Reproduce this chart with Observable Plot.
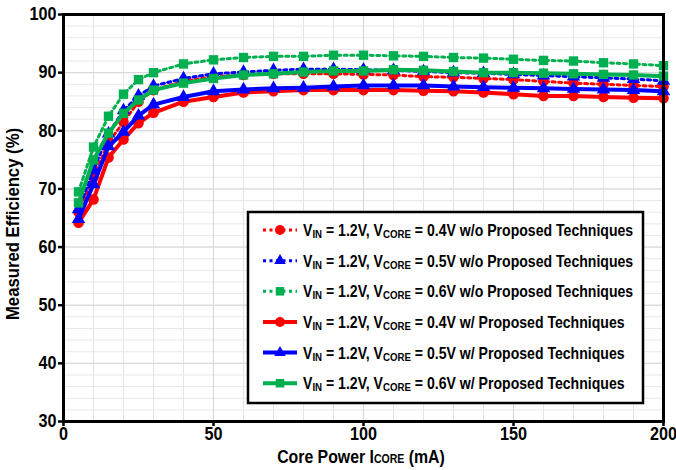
<!DOCTYPE html>
<html><head><meta charset="utf-8">
<script src="https://cdn.jsdelivr.net/npm/d3@7"></script>
<script src="https://cdn.jsdelivr.net/npm/@observablehq/plot@0.6"></script>
<style>
body{margin:0;background:#fff;}
#chart{width:676px;height:470px;}
</style></head><body><div id="chart"></div>
<script>
// ---- data ----
const currents = [5,10,15,20,25,30,40,50,60,70,80,90,100,110,120,130,140,150,160,170,180,190,200];
const eff04_wo = [66.0,72.0,78.0,81.5,85.0,87.0,88.5,89.3,89.6,89.8,89.8,89.8,89.7,89.6,89.3,89.2,89.0,88.8,88.5,88.2,88.0,87.8,87.6];
const eff05_wo = [66.5,73.2,79.5,83.5,86.0,87.7,89.0,89.8,90.1,90.4,90.6,90.6,90.5,90.4,90.2,90.0,89.9,89.7,89.5,89.3,89.1,88.9,88.6];
const eff06_wo = [69.5,77.2,82.5,86.3,88.8,90.0,91.5,92.2,92.6,92.8,92.8,93.0,93.0,92.9,92.8,92.6,92.5,92.3,92.1,92.0,91.7,91.5,91.2];
const eff04_w  = [64.2,68.2,75.4,78.5,81.3,83.1,85.0,85.8,86.6,86.8,87.0,87.0,87.0,87.0,86.9,86.8,86.6,86.3,86.0,86.0,85.8,85.7,85.6];
const eff05_w  = [64.8,70.8,77.3,79.8,82.6,84.5,85.8,86.8,87.1,87.3,87.4,87.6,87.8,87.8,87.8,87.6,87.5,87.4,87.3,87.2,87.1,87.0,86.8];
const eff06_w  = [67.6,75.0,79.6,83.0,85.3,87.0,88.2,89.0,89.6,89.8,90.1,90.3,90.3,90.5,90.4,90.2,90.0,90.0,89.9,89.8,89.7,89.6,89.4];

const seriesValues  = [eff04_wo, eff05_wo, eff06_wo, eff04_w, eff05_w, eff06_w];
const seriesVcore   = ["0.4V","0.5V","0.6V","0.4V","0.5V","0.6V"];
const seriesSuffix  = ["w/o Proposed Techniques","w/o Proposed Techniques","w/o Proposed Techniques","w/ Proposed Techniques","w/ Proposed Techniques","w/ Proposed Techniques"];
const seriesColors  = ["#ff0000","#0000ff","#00b050","#ff0000","#0000ff","#00b050"];
const seriesSymbols = ["circle","triangle","square","circle","triangle","square"];
const seriesDotted  = [true,true,true,false,false,false];
const vinLabel = "1.2V";

const yTicks = [30,40,50,60,70,80,90,100];
const xTicks = [0,50,100,150,200];
const xGrid = d3.range(0, 201, 10);
const yGrid = d3.range(30, 101, 2);

const FONT = "'Liberation Sans',Arial,sans-serif";

// ---- build rows ----
const series = seriesValues.map((vals, i) => vals.map((v, j) => ({s: i, x: currents[j], y: v})));

const markerR = {circle: 5.3, triangle: 5, square: 5.3};

const marks = [
  Plot.gridX(xGrid, {stroke: "#e4e4e4", strokeOpacity: 1, strokeWidth: 1}),
  Plot.gridY(yGrid, {stroke: "#e8e8e8", strokeOpacity: 1, strokeWidth: 1}),
  Plot.gridY(yTicks, {stroke: "#d6d6d6", strokeOpacity: 1, strokeWidth: 1}),
  Plot.gridX(xTicks, {stroke: "#d6d6d6", strokeOpacity: 1, strokeWidth: 1})
];
series.forEach((rows, i) => {
  marks.push(Plot.line(rows, {
    x: "x", y: "y", stroke: seriesColors[i],
    strokeWidth: seriesDotted[i] ? 3 : 4,
    strokeDasharray: seriesDotted[i] ? "3,3.5" : null,
    curve: "linear"
  }));
  marks.push(Plot.dot(rows, {
    x: "x", y: "y", symbol: () => seriesSymbols[i], fill: seriesColors[i], stroke: "none",
    r: markerR[seriesSymbols[i]]
  }));
});
marks.push(Plot.frame({stroke: "black", strokeWidth: 3}));
marks.push(Plot.axisY({ticks: yTicks, tickSize: 5, tickPadding: 2, tickFormat: d => d, fontSize: 18, fontWeight: "bold", fontFamily: FONT, strokeWidth: 2.5, label: null}));
marks.push(Plot.axisX({ticks: xTicks, tickSize: 5, tickPadding: 1, tickFormat: d => d, fontSize: 18, fontWeight: "bold", fontFamily: FONT, strokeWidth: 2.5, label: null}));

const chart = Plot.plot({
  width: 676, height: 470,
  marginLeft: 63, marginRight: 13, marginTop: 14, marginBottom: 49,
  x: {domain: [0, 200]},
  y: {domain: [30, 100]},
  symbol: {type: "identity"},
  style: {fontFamily: FONT, fontWeight: "bold", color: "black", background: "white"},
  marks
});
document.getElementById("chart").appendChild(chart);

const svg = d3.select(chart);

// condense text horizontally (narrow bold face look)
function condense(nodes, s) {
  nodes.forEach(el => {
    const bb = el.getBBox();
    const anchor = getComputedStyle(el).textAnchor;
    const ax = anchor === "middle" ? bb.x + bb.width / 2 : anchor === "end" ? bb.x + bb.width : bb.x;
    const tr = el.getAttribute("transform") || "";
    el.setAttribute("transform", `${tr} translate(${ax},0) scale(${s},1) translate(${-ax},0)`);
  });
}
condense(Array.from(chart.querySelectorAll("text")), 0.9);

// axis titles
const xt = svg.append("text").attr("x", 361).attr("y", 463).attr("text-anchor", "middle")
  .attr("font-family", FONT).attr("font-weight", "bold").attr("font-size", 18).attr("fill", "black");
xt.append("tspan").text("Core Power I");
xt.append("tspan").attr("font-size", 12).text("CORE");
xt.append("tspan").text(" (mA)");

const yt = svg.append("text").attr("transform", "translate(19,224) rotate(-90)").attr("text-anchor", "middle")
  .attr("font-family", FONT).attr("font-weight", "bold").attr("font-size", 19).attr("fill", "black")
  .text("Measured Efficiency (%)");
condense([xt.node(), yt.node()], 0.88);

// legend
const lg = svg.append("g");
lg.append("rect").attr("x", 248).attr("y", 212).attr("width", 395).attr("height", 191)
  .attr("fill", "white").attr("stroke", "black").attr("stroke-width", 2.5);
const symMap = {circle: d3.symbolCircle, triangle: d3.symbolTriangle, square: d3.symbolSquare};
const legendR = {circle: 5, triangle: 4.3, square: 4.8};
const legendTexts = [];
seriesValues.forEach((_, i) => {
  const cy = 230 + i * 30.65;
  lg.append("line").attr("x1", 263).attr("x2", 297).attr("y1", cy).attr("y2", cy)
    .attr("stroke", seriesColors[i]).attr("stroke-width", seriesDotted[i] ? 3 : 4)
    .attr("stroke-dasharray", seriesDotted[i] ? "3,3.5" : null);
  const r = legendR[seriesSymbols[i]];
  lg.append("path").attr("transform", `translate(280,${cy})`)
    .attr("d", d3.symbol(symMap[seriesSymbols[i]], Math.PI * r * r)())
    .attr("fill", seriesColors[i]);
  const t = lg.append("text").attr("x", 303).attr("y", cy + 6).attr("text-anchor", "start")
    .attr("font-family", FONT).attr("font-weight", "bold").attr("font-size", 16).attr("fill", "black");
  t.append("tspan").text("V");
  t.append("tspan").attr("font-size", 11).attr("dy", 2).text("IN");
  t.append("tspan").attr("dy", -2).text(` = ${vinLabel}, V`);
  t.append("tspan").attr("font-size", 11).attr("dy", 2).text("CORE");
  t.append("tspan").attr("dy", -2).text(` = ${seriesVcore[i]} ${seriesSuffix[i]}`);
  legendTexts.push(t.node());
});
condense(legendTexts, 0.88);
</script></body></html>
